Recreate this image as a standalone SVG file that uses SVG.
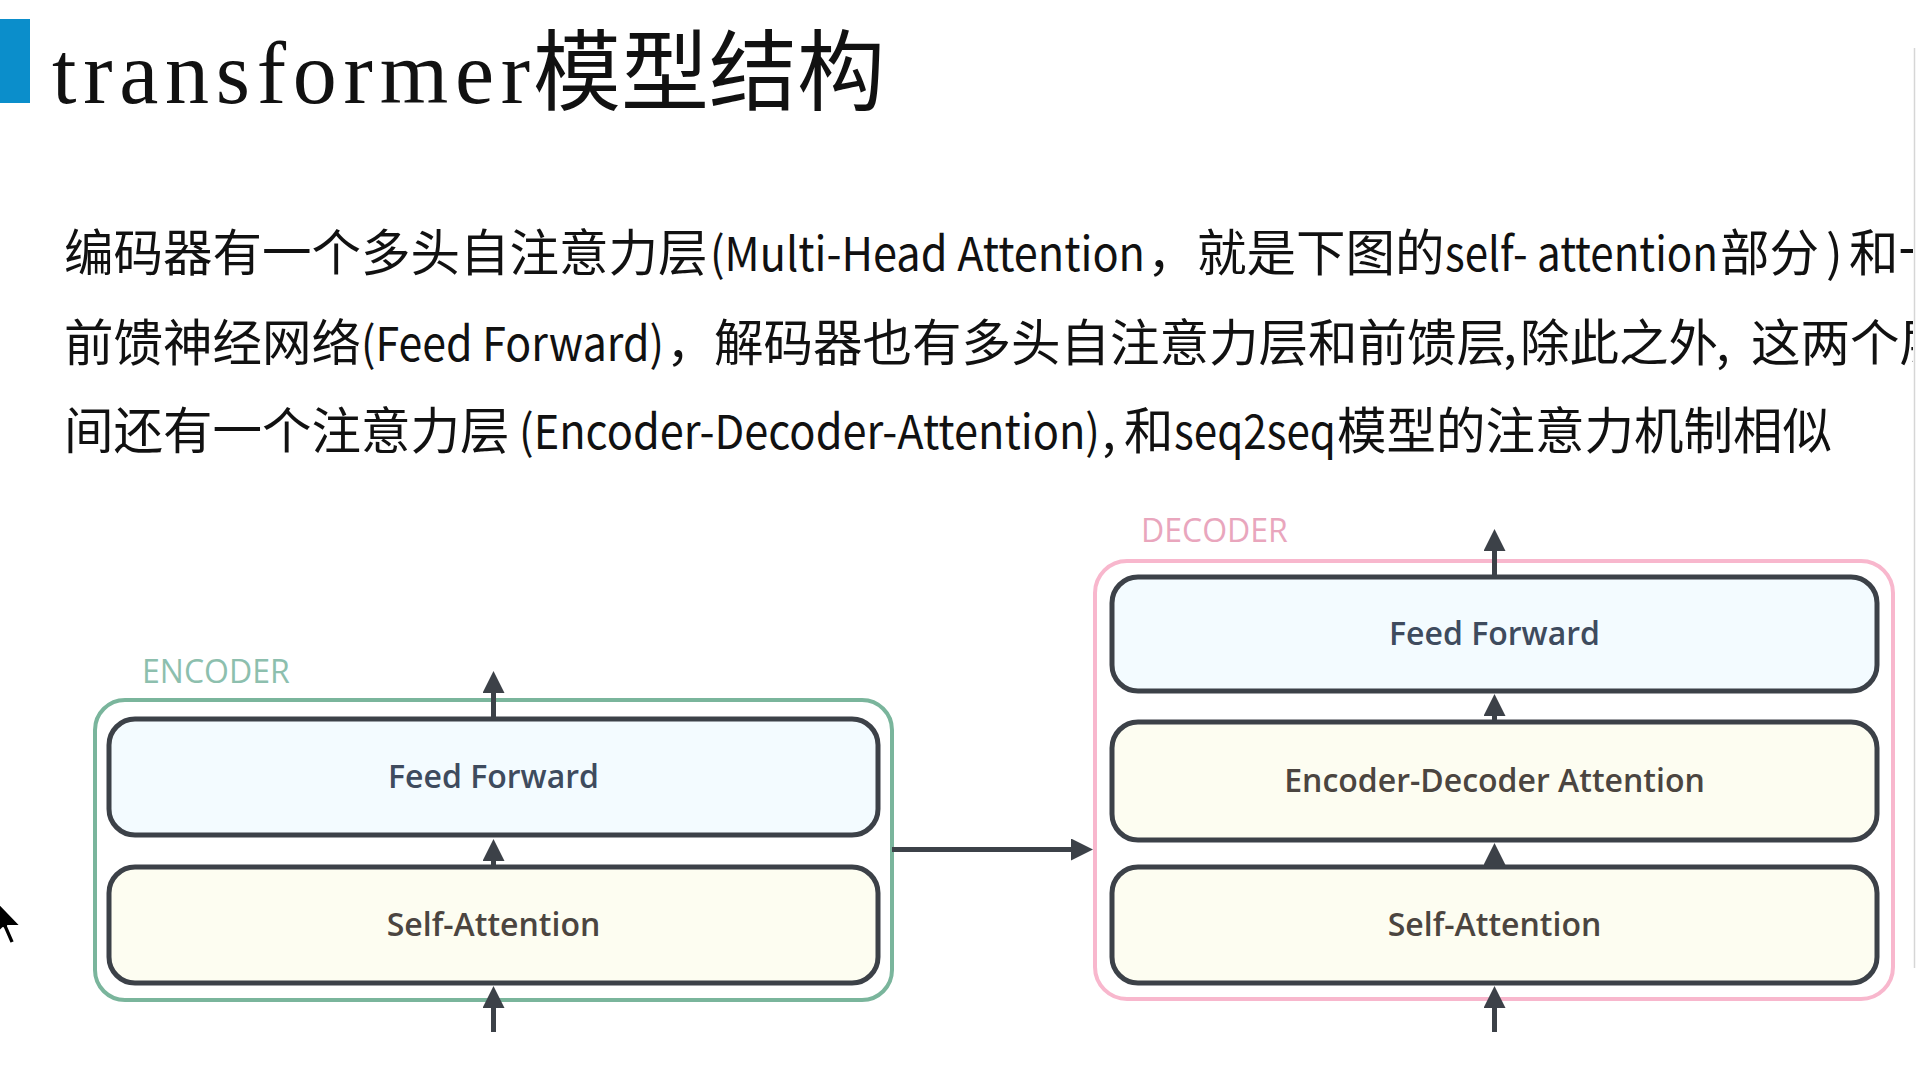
<svg xmlns="http://www.w3.org/2000/svg" width="1920" height="1086" viewBox="0 0 1920 1086">
<defs>
  <style>
    .body{font-family:"Noto Sans CJK SC",sans-serif;font-size:49.5px;fill:#111}
    .lat{font-size:47px}
    .title-lat{font-family:"Liberation Serif",serif;font-size:88px;fill:#111}
    .title-cjk{font-family:"Noto Sans CJK SC",sans-serif;font-size:88px;fill:#111}
    .group-label{font-family:"Open Sans","Liberation Sans",sans-serif;font-size:32px}
    .box{stroke:#3c4148;stroke-width:5}
    .ff{fill:#f3fbff}
    .att{fill:#fdfdf1}
    .lbl{font-family:"Open Sans","Liberation Sans",sans-serif;font-size:32px;font-weight:600;text-anchor:middle}
    .lbl-ff{fill:#3e4b5e}
    .lbl-att{fill:#4b4540}
    .conn{stroke:#3c4148;stroke-width:5;fill:none}
  </style>
  <marker id="arrow" markerUnits="userSpaceOnUse" markerWidth="22" markerHeight="22" refX="0" refY="11" orient="auto" viewBox="0 0 22 22">
    <path d="M0,0 L22,11 L0,22 z" fill="#3c4148"/>
  </marker>
  <clipPath id="clipText"><rect x="0" y="0" width="1913" height="1086"/></clipPath>
</defs>
<rect x="0" y="0" width="1920" height="1086" fill="#ffffff"/>

<g id="title">
  <rect x="0" y="19" width="30" height="84" fill="#0b8ecb"/>
  <text y="103"><tspan class="title-lat" x="52" textLength="478" lengthAdjust="spacing">transformer</tspan><tspan class="title-cjk" x="533">模型结构</tspan></text>
</g>

<g id="body-text" clip-path="url(#clipText)">
  <text class="body" y="271"><tspan x="64">编码器有一个多头自注意力层</tspan><tspan class="lat" x="710" textLength="435" lengthAdjust="spacingAndGlyphs">(Multi-Head Attention</tspan><tspan x="1147">，</tspan><tspan x="1197">就是下图的</tspan><tspan class="lat" x="1445" textLength="273" lengthAdjust="spacingAndGlyphs">self- attention</tspan><tspan x="1720">部分</tspan><tspan x="1826">)</tspan><tspan x="1849">和一个</tspan></text>
  <text class="body" y="361"><tspan x="64">前馈神经网络</tspan><tspan class="lat" x="361" textLength="303" lengthAdjust="spacingAndGlyphs">(Feed Forward)</tspan><tspan x="666">，</tspan><tspan x="714">解码器也有多头自注意力层和前馈层</tspan><tspan x="1503">,</tspan><tspan x="1520">除此之外</tspan><tspan x="1716">,</tspan><tspan x="1751">这两个层</tspan></text>
  <text class="body" y="449"><tspan x="64">间还有一个注意力层</tspan><tspan class="lat" x="519" textLength="581" lengthAdjust="spacingAndGlyphs">(Encoder-Decoder-Attention)</tspan><tspan x="1102">,</tspan><tspan x="1124">和</tspan><tspan class="lat" x="1174" textLength="162" lengthAdjust="spacingAndGlyphs">seq2seq</tspan><tspan x="1337">模型的注意力机制相似</tspan></text>
</g>
<line x1="1914.5" y1="48" x2="1914.5" y2="968" stroke="#d6d6d6" stroke-width="1.5"/>

<g id="encoder">
  <rect x="95" y="700" width="797" height="300" rx="30" fill="none" stroke="#7ab59c" stroke-width="4"/>
  <text class="group-label" x="142" y="683" fill="#8dbfae">ENCODER</text>
</g>
<g id="enc-ff">
  <rect class="box ff" x="109" y="719" width="769" height="116" rx="26"/>
  <text class="lbl lbl-ff" x="493.5" y="788">Feed Forward</text>
</g>
<g id="enc-sa">
  <rect class="box att" x="109" y="867" width="769" height="116" rx="26"/>
  <text class="lbl lbl-att" x="493.5" y="936">Self-Attention</text>
</g>

<g id="decoder">
  <rect x="1095" y="561" width="798" height="438" rx="32" fill="none" stroke="#f8b7cd" stroke-width="4"/>
  <text class="group-label" x="1141" y="542" fill="#e9a6bd">DECODER</text>
</g>
<g id="dec-ff">
  <rect class="box ff" x="1112" y="577" width="765" height="114" rx="26"/>
  <text class="lbl lbl-ff" x="1494.5" y="645">Feed Forward</text>
</g>
<g id="dec-eda">
  <rect class="box att" x="1112" y="722" width="765" height="118" rx="26"/>
  <text class="lbl lbl-att" x="1494.5" y="792">Encoder-Decoder Attention</text>
</g>
<g id="dec-sa">
  <rect class="box att" x="1112" y="867" width="765" height="116" rx="26"/>
  <text class="lbl lbl-att" x="1494.5" y="936">Self-Attention</text>
</g>

<g id="connectors">
  <line class="conn" x1="493.5" y1="719" x2="493.5" y2="693" marker-end="url(#arrow)"/>
  <line class="conn" x1="493.5" y1="867" x2="493.5" y2="861" marker-end="url(#arrow)"/>
  <line class="conn" x1="493.5" y1="1032" x2="493.5" y2="1008" marker-end="url(#arrow)"/>
  <line class="conn" x1="892" y1="849.5" x2="1071" y2="849.5" marker-end="url(#arrow)"/>
  <line class="conn" x1="1494.5" y1="577" x2="1494.5" y2="551" marker-end="url(#arrow)"/>
  <line class="conn" x1="1494.5" y1="722" x2="1494.5" y2="716" marker-end="url(#arrow)"/>
  <line class="conn" x1="1494.5" y1="867" x2="1494.5" y2="865" marker-end="url(#arrow)"/>
  <line class="conn" x1="1494.5" y1="1032" x2="1494.5" y2="1008" marker-end="url(#arrow)"/>
</g>

<g id="cursor">
  <path d="M-6,898 L-6,937 L3,928 L10,944 L15,942 L8,926 L21,926 Z" fill="#000" stroke="#fff" stroke-width="2" stroke-linejoin="round"/>
</g>
</svg>
